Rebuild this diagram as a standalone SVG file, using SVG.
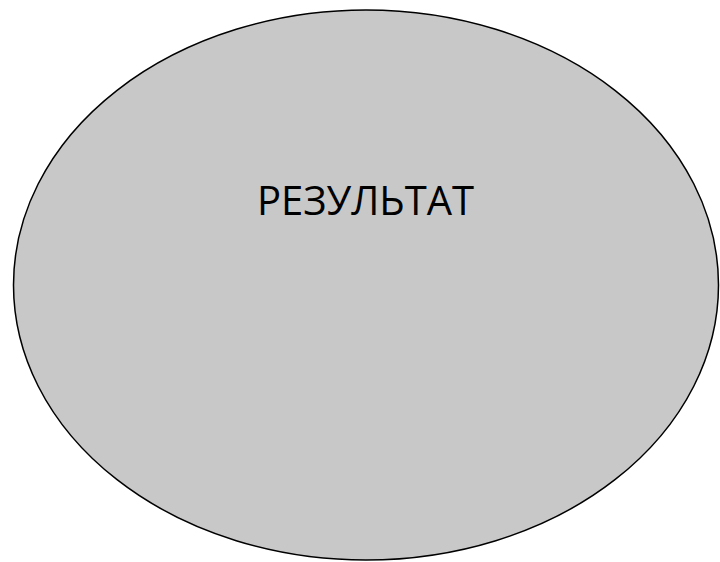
<svg xmlns="http://www.w3.org/2000/svg" width="720" height="562" viewBox="0 0 720 562">
<style>
.node{fill:#c8c8c8;stroke:#000;stroke-width:1.5}
.lbl{font-family:"Open Sans","Noto Sans",sans-serif;font-size:40px;fill:#000}
</style>
<rect width="720" height="562" fill="#fff"/>
<g id="result">
<ellipse class="node" cx="366" cy="285" rx="352.5" ry="275"/>
<text class="lbl" x="365.5" y="215" text-anchor="middle">РЕЗУЛЬТАТ</text>
</g>
<g id="connectors"/>
</svg>
